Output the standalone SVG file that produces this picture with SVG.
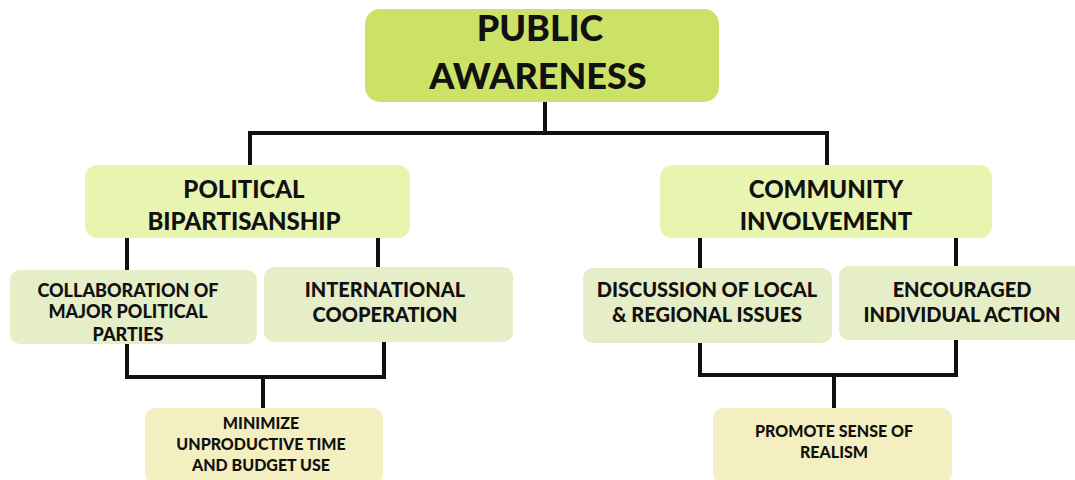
<svg xmlns="http://www.w3.org/2000/svg" width="1075" height="480" viewBox="0 0 1075 480">
<style>
text{font-family:Lato,"Liberation Sans",sans-serif;font-weight:900;fill:#111;text-anchor:middle}
.l1{fill:#cce266}
.l2{fill:#e8f5b0}
.l3{fill:#e6eec8}
.l4{fill:#f3efc0}
.c{fill:none;stroke:#111;stroke-width:4}
</style>
<rect width="1075" height="480" fill="#fff"/>
<g id="connectors">
<path class="c" d="M545 102V133M250 165V133H827V165"/>
<path class="c" d="M127 238V270M378 238V267"/>
<path class="c" d="M700 238V268M956 238V266"/>
<path class="c" d="M127 344V377H384V342M263 377V408"/>
<path class="c" d="M700 343V375H956V340M834 375V408"/>
</g>
<g id="public-awareness">
<rect class="l1" x="365" y="9" width="354" height="93" rx="15"/>
<text x="540" y="41" font-size="36">PUBLIC</text>
<text x="538" y="89" font-size="36">AWARENESS</text>
</g>
<g id="political-bipartisanship">
<rect class="l2" x="85" y="165" width="325" height="73" rx="12"/>
<text x="244" y="198" font-size="24">POLITICAL</text>
<text x="244" y="230" font-size="24">BIPARTISANSHIP</text>
</g>
<g id="community-involvement">
<rect class="l2" x="660" y="165" width="332" height="73" rx="12"/>
<text x="826" y="198" font-size="24">COMMUNITY</text>
<text x="826" y="230" font-size="24">INVOLVEMENT</text>
</g>
<g id="collaboration">
<rect class="l3" x="10" y="270" width="247" height="74" rx="10"/>
<text x="128" y="297" font-size="18">COLLABORATION OF</text>
<text x="128" y="318" font-size="18">MAJOR POLITICAL</text>
<text x="128" y="341" font-size="18">PARTIES</text>
</g>
<g id="international">
<rect class="l3" x="264" y="267" width="249" height="75" rx="10"/>
<text x="385" y="297" font-size="20">INTERNATIONAL</text>
<text x="385" y="322" font-size="20">COOPERATION</text>
</g>
<g id="discussion">
<rect class="l3" x="583" y="268" width="249" height="75" rx="10"/>
<text x="707" y="297" font-size="20">DISCUSSION OF LOCAL</text>
<text x="707" y="322" font-size="20">&amp; REGIONAL ISSUES</text>
</g>
<g id="encouraged">
<rect class="l3" x="839" y="266" width="250" height="74" rx="10"/>
<text x="962" y="297" font-size="20">ENCOURAGED</text>
<text x="962" y="322" font-size="20">INDIVIDUAL ACTION</text>
</g>
<g id="minimize">
<rect class="l4" x="145" y="408" width="238" height="75" rx="10"/>
<text x="261" y="429" font-size="16">MINIMIZE</text>
<text x="261" y="450" font-size="16">UNPRODUCTIVE TIME</text>
<text x="261" y="471" font-size="16">AND BUDGET USE</text>
</g>
<g id="promote">
<rect class="l4" x="713" y="408" width="239" height="75" rx="10"/>
<text x="834" y="437" font-size="16">PROMOTE SENSE OF</text>
<text x="834" y="458" font-size="16">REALISM</text>
</g>
</svg>
